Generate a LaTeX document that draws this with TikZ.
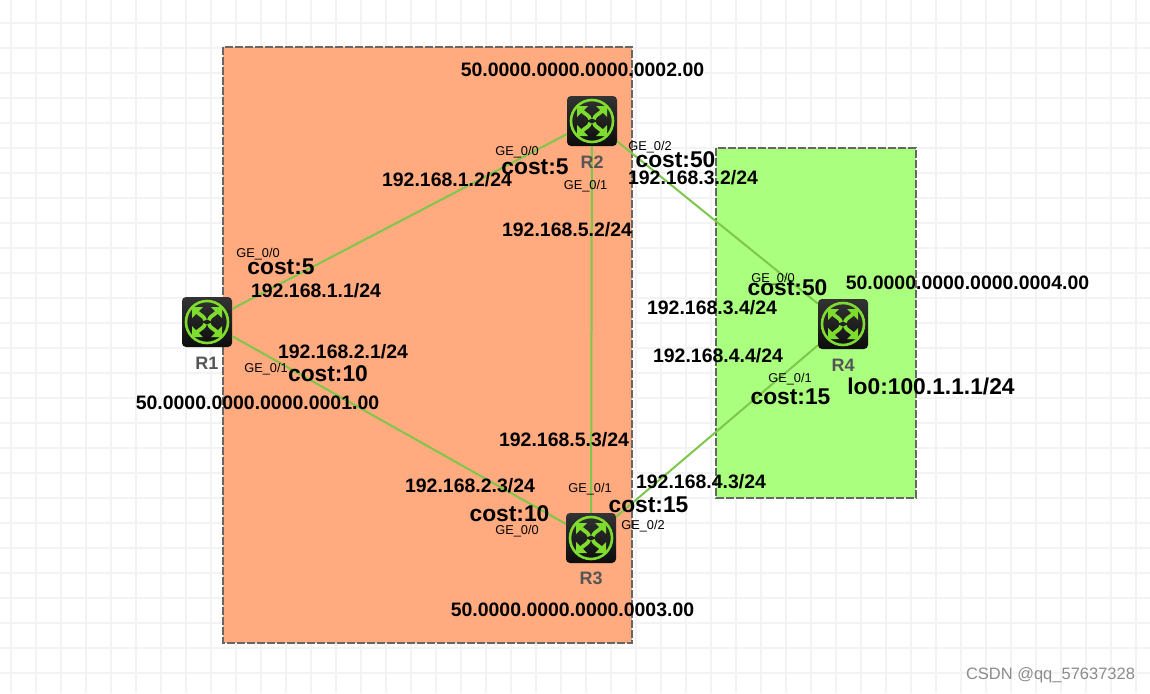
\documentclass[tikz,border=0pt]{standalone}
\usepackage{fontspec}
\setmainfont{Liberation Sans}
\usetikzlibrary{calc}
\definecolor{gridc}{HTML}{F3F3F3}
\definecolor{orangezone}{HTML}{FFAA7F}
\definecolor{greenzone}{HTML}{AAFF7F}
\definecolor{zoneedge}{HTML}{666666}
\definecolor{linkc}{HTML}{7DC74A}
\definecolor{iconc}{HTML}{7EDC2E}
\definecolor{namec}{HTML}{555555}
\newcommand\quadarrow[3]{%
  \fill[iconc] ($(#1.center)+(#2*15pt,#3*15pt)$) -- ($(#1.center)+(#2*15pt,#3*4pt)$) -- ($(#1.center)+(#2*4pt,#3*15pt)$) -- cycle;
  \draw[iconc,line width=3.8pt] ($(#1.center)+(#2*10pt,#3*10pt)$) .. controls ($(#1.center)+(#2*6.5pt,#3*6.5pt)$) and ($(#1.center)+(#2*3pt,#3*6pt)$) .. ($(#1.center)+(#2*1.8pt,#3*1.8pt)$);}
\newcommand\routerglyph[1]{%
  \draw[iconc,line width=2.6pt] (#1.center) circle (21pt);
  \quadarrow{#1}{1}{1}\quadarrow{#1}{-1}{1}\quadarrow{#1}{1}{-1}\quadarrow{#1}{-1}{-1}}
\tikzset{
  zone/.style={draw=zoneedge,line width=2.4pt,dash pattern=on 8pt off 2pt},
  link/.style={draw=linkc,line width=2pt},
  router/.style={minimum size=50pt,inner sep=0pt,rounded corners=4pt,top color=black!80,bottom color=black!95},
  addr/.style={inner sep=0pt,yshift=-0.7pt,font=\fontsize{19.45}{22}\selectfont\bfseries},
  costl/.style={inner sep=0pt,font=\fontsize{22.8}{26}\selectfont\bfseries},
  port/.style={inner sep=0pt,yshift=-0.7pt,font=\fontsize{12.8}{15}\selectfont},
  rname/.style={inner sep=0pt,text=namec,font=\fontsize{18}{20}\selectfont\bfseries},
  mark text/.style={inner sep=0pt,text=black!45,font=\fontsize{16.5}{19}\selectfont}
}
\begin{document}
\begin{tikzpicture}[x=1pt,y=-1pt]
\useasboundingbox (0,0) rectangle (1150,693);
\fill[white] (0,0) rectangle (1150,693);
\foreach \i in {0,...,45}{\draw[gridc,line width=2.5pt] (11+25*\i,0) -- (11+25*\i,693);}
\foreach \i in {0,...,26}{\draw[gridc,line width=2.5pt] (0,23+25*\i) -- (1150,23+25*\i);}
\draw[zone,fill=orangezone] (223,47) rectangle (632,643);
\draw[zone,fill=greenzone] (716,148) rectangle (916,498);
\node[router] (R1) at (207,322) {};
\node[router] (R2) at (592,121) {};
\node[router] (R3) at (591,538) {};
\node[router] (R4) at (843,324) {};
\routerglyph{R1}
\routerglyph{R2}
\routerglyph{R3}
\routerglyph{R4}
\draw[link] (R1) -- (R2);
\draw[link] (R1) -- (R3);
\draw[link] (R2) -- (R3);
\draw[link] (R2) -- (R4);
\draw[link] (R3) -- (R4);
\node[rname] (nR1) at (207,363) {R1};
\node[rname] (nR2) at (592,162) {R2};
\node[rname] (nR3) at (591,578) {R3};
\node[rname] (nR4) at (843,365) {R4};
\node[addr] (sys2) at (582.5,69) {50.0000.0000.0000.0002.00};
\node[addr] (sys1) at (257.5,402) {50.0000.0000.0000.0001.00};
\node[addr] (sys4) at (967.5,282) {50.0000.0000.0000.0004.00};
\node[addr] (sys3) at (572.5,609) {50.0000.0000.0000.0003.00};
\node[addr] (a12) at (447,179) {192.168.1.2/24};
\node[addr] (a32) at (693,177) {192.168.3.2/24};
\node[addr] (a52) at (567,229) {192.168.5.2/24};
\node[addr] (a11) at (316,290) {192.168.1.1/24};
\node[addr] (a21) at (343,351) {192.168.2.1/24};
\node[addr] (a34) at (712,307) {192.168.3.4/24};
\node[addr] (a44) at (718,355) {192.168.4.4/24};
\node[addr] (a53) at (564,439) {192.168.5.3/24};
\node[addr] (a43) at (701,481) {192.168.4.3/24};
\node[addr] (a23) at (470,485) {192.168.2.3/24};
\node[costl] (c1) at (535,167) {cost:5};
\node[costl] (c2) at (675.5,160) {cost:50};
\node[costl] (c3) at (281,267) {cost:5};
\node[costl] (c4) at (328,374) {cost:10};
\node[costl] (c5) at (787.5,288) {cost:50};
\node[costl] (c6) at (790.5,397) {cost:15};
\node[costl] (c7) at (648.5,505) {cost:15};
\node[costl] (c8) at (509.5,514) {cost:10};
\node[costl] (lo) at (931,386) {lo0:100.1.1.1/24};
\node[port] (p1) at (517,151) {GE\_0/0};
\node[port] (p2) at (585.5,185) {GE\_0/1};
\node[port] (p3) at (650,146) {GE\_0/2};
\node[port] (p4) at (258,253) {GE\_0/0};
\node[port] (p5) at (266,368) {GE\_0/1};
\node[port] (p6) at (773,278) {GE\_0/0};
\node[port] (p7) at (790,378) {GE\_0/1};
\node[port] (p8) at (590,488) {GE\_0/1};
\node[port] (p9) at (643,525) {GE\_0/2};
\node[port] (p10) at (517,530) {GE\_0/0};
\node[mark text] (wm) at (1050.5,675) {CSDN @qq\_57637328};
\end{tikzpicture}
\end{document}
